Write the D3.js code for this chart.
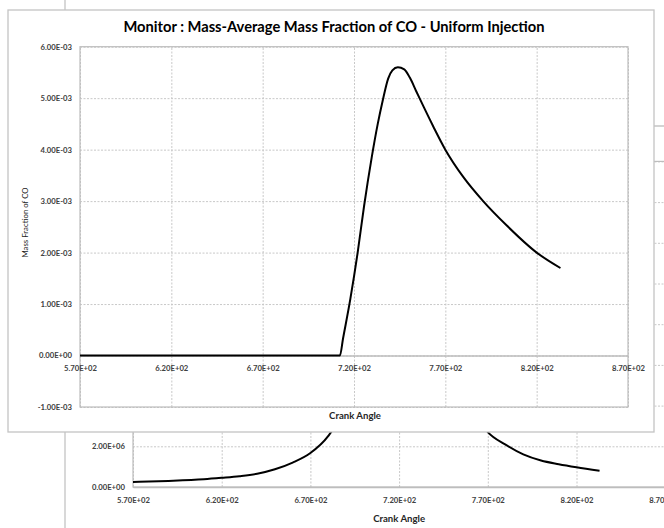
<!DOCTYPE html>
<html>
<head>
<meta charset="utf-8">
<script src="https://cdn.jsdelivr.net/npm/d3@7"></script>
<style>
body { margin:0; background:#fff; }
svg text { font-family: Lato, "Open Sans", sans-serif; }
</style>
</head>
<body>
<svg id="drawing_region"></svg>
<script>
// front chart: mass-average CO fraction vs crank angle
const crank_angle = [570, 620, 670, 700, 712.3, 714, 718, 722, 725.5, 729.7, 733, 735.7, 738.7, 741, 744, 747.5, 750.7, 754, 756, 763.4, 770, 779.8, 790.7, 803.5, 820, 833];
const co_fraction = [0, 0, 0, 0, 0, 0.33e-3, 1.1e-3, 2.0e-3, 2.9e-3, 3.85e-3, 4.5e-3, 4.95e-3, 5.38e-3, 5.54e-3, 5.60e-3, 5.56e-3, 5.39e-3, 5.14e-3, 4.99e-3, 4.45e-3, 4.0e-3, 3.47e-3, 3.0e-3, 2.53e-3, 2.0e-3, 1.70e-3];

// chart behind it (mostly covered): pressure vs crank angle
const back_crank_angle = [570, 590, 610, 620, 630, 640, 650, 660, 670, 680, 690, 700, 710, 720, 730, 740, 750, 760, 770, 780, 790, 800, 810, 820, 833];
const back_pressure = [0.25e6, 0.3e6, 0.38e6, 0.45e6, 0.53e6, 0.65e6, 0.87e6, 1.2e6, 1.67e6, 2.5e6, 4.0e6, 7.0e6, 11e6, 14e6, 13e6, 10e6, 6.5e6, 4.0e6, 2.7e6, 2.08e6, 1.6e6, 1.3e6, 1.12e6, 0.97e6, 0.80e6];

const angle_ticks = [570, 620, 670, 720, 770, 820, 870];
const co_ticks = [-1e-3, 0, 1e-3, 2e-3, 3e-3, 4e-3, 5e-3, 6e-3];
const pressure_ticks = [0, 2e6, 4e6, 6e6, 8e6, 10e6, 12e6, 14e6, 16e6];

// excel style 0.00E+00
const exp_format = v => {
    if (v === 0) return '0.00E+00';
    const e = Math.floor(Math.log10(Math.abs(v)) + 1e-9);
    const m = v / Math.pow(10, e);
    return m.toFixed(2) + 'E' + (e < 0 ? '-' : '+') + String(Math.abs(e)).padStart(2, '0');
};

const svg = d3.select('#drawing_region')
    .attr('width', 664)
    .attr('height', 528);

class LineChart {
    constructor(config, xs, ys) {
        this.config = config;
        this.xs = xs;
        this.ys = ys;
        this.init();
    }
    init() {
        let self = this;
        const c = self.config;
        self.chart = svg.append('g');
        self.xscale = d3.scaleLinear()
            .domain(c.xdomain)
            .range([c.plot.left, c.plot.right]);
        self.yscale = d3.scaleLinear()
            .domain(c.ydomain)
            .range([c.plot.bottom, c.plot.top]);
        self.render();
    }
    render() {
        let self = this;
        const c = self.config;
        const pw = c.plot.right - c.plot.left;
        const ph = c.plot.bottom - c.plot.top;

        // outer frame
        self.chart.append('rect')
            .attr('x', c.frame.x).attr('y', c.frame.y)
            .attr('width', c.frame.w).attr('height', c.frame.h)
            .attr('fill', '#fff')
            .attr('stroke', '#c4c4c4')
            .attr('stroke-width', 1.3);

        if (c.header_rule) {
            self.chart.append('line')
                .attr('x1', c.plot.left).attr('x2', c.frame.x + c.frame.w)
                .attr('y1', c.header_rule).attr('y2', c.header_rule)
                .attr('stroke', '#c4c4c4').attr('stroke-width', 1.3);
        }

        // grid
        self.chart.append('g')
            .attr('transform', `translate(${c.plot.left},0)`)
            .call(d3.axisLeft(self.yscale).tickValues(c.yticks).tickSize(-pw).tickFormat(''))
            .call(g => g.select('.domain').remove())
            .call(g => g.selectAll('line').attr('stroke', '#c8c8c8').attr('stroke-dasharray', '2,1.5'));

        self.chart.append('g')
            .attr('transform', `translate(0,${c.plot.bottom})`)
            .call(d3.axisBottom(self.xscale).tickValues(c.xticks).tickSize(-ph).tickFormat(''))
            .call(g => g.select('.domain').remove())
            .call(g => g.selectAll('line').attr('stroke', '#c8c8c8').attr('stroke-dasharray', '2,1.5'));

        self.chart.append('rect')
            .attr('x', c.plot.left).attr('y', c.plot.top)
            .attr('width', pw).attr('height', ph)
            .attr('fill', 'none')
            .attr('stroke', '#bdbdbd')
            .attr('stroke-width', 1.2);

        // x axis crosses at zero
        const xaxis_group = self.chart.append('g')
            .attr('transform', `translate(0,${self.yscale(0)})`)
            .call(d3.axisBottom(self.xscale).tickValues(c.xticks).tickFormat(exp_format).tickSize(0).tickPadding(10.5));
        xaxis_group.select('.domain').attr('stroke', '#bdbdbd').attr('stroke-width', 1.5);

        const yaxis_group = self.chart.append('g')
            .attr('transform', `translate(${c.plot.left},0)`)
            .call(d3.axisLeft(self.yscale).tickValues(c.yticks).tickFormat(exp_format).tickSize(0).tickPadding(8));
        yaxis_group.select('.domain').remove();

        [xaxis_group, yaxis_group].forEach(g => g.selectAll('text')
            .attr('font-size', 7.7)
            .attr('font-weight', 'bold')
            .attr('fill', '#404040'));

        // series
        const clip_id = c.name + '_clip';
        self.chart.append('clipPath').attr('id', clip_id)
            .append('rect')
            .attr('x', c.plot.left).attr('y', c.plot.top)
            .attr('width', pw).attr('height', ph);

        const line = d3.line()
            .x(d => self.xscale(d[0]))
            .y(d => self.yscale(d[1]))
            .curve(d3.curveMonotoneX);

        self.chart.append('path')
            .datum(d3.zip(self.xs, self.ys))
            .attr('clip-path', `url(#${clip_id})`)
            .attr('d', line)
            .attr('fill', 'none')
            .attr('stroke', '#000')
            .attr('stroke-width', 2)
            .attr('stroke-linejoin', 'round');

        // titles
        if (c.title) {
            self.chart.append('text')
                .attr('x', c.title_pos[0]).attr('y', c.title_pos[1])
                .attr('text-anchor', 'middle')
                .attr('font-size', 14.7).attr('font-weight', 'bold')
                .attr('fill', '#000')
                .text(c.title);
        }
        self.chart.append('text')
            .attr('x', (c.plot.left + c.plot.right) / 2 + (c.xlabel_shift || 0))
            .attr('y', c.xlabel_y)
            .attr('text-anchor', 'middle')
            .attr('font-size', 9.6).attr('font-weight', 'bold')
            .attr('fill', '#262626')
            .text(c.xlabel);
        if (c.ylabel) {
            self.chart.append('text')
                .attr('transform', `translate(${c.ylabel_pos[0]},${c.ylabel_pos[1]}) rotate(-90)`)
                .attr('text-anchor', 'middle')
                .attr('font-size', 7.8)
                .attr('fill', '#1a1a1a')
                .text(c.ylabel);
        }
    }
}

const back_chart = new LineChart({
    name: 'back',
    frame: {x: 65, y: -20, w: 700, h: 600},
    plot: {left: 133, right: 665.2, top: 161.4, bottom: 487},
    header_rule: 126,
    xdomain: [570, 870],
    ydomain: [0, 1.6e7],
    xticks: angle_ticks,
    yticks: pressure_ticks,
    xlabel: 'Crank Angle',
    xlabel_y: 521.5,
}, back_crank_angle, back_pressure);

const front_chart = new LineChart({
    name: 'front',
    frame: {x: 8, y: 10, w: 646, h: 422},
    plot: {left: 80, right: 628, top: 46.7, bottom: 407},
    xdomain: [570, 870],
    ydomain: [-1e-3, 6e-3],
    xticks: angle_ticks,
    yticks: co_ticks,
    title: 'Monitor : Mass-Average Mass Fraction of CO - Uniform Injection',
    title_pos: [334, 32],
    xlabel: 'Crank Angle',
    xlabel_shift: 1,
    xlabel_y: 418.5,
    ylabel: 'Mass Fraction of CO',
    ylabel_pos: [28, 222.5],
}, crank_angle, co_fraction);
</script>
</body>
</html>
